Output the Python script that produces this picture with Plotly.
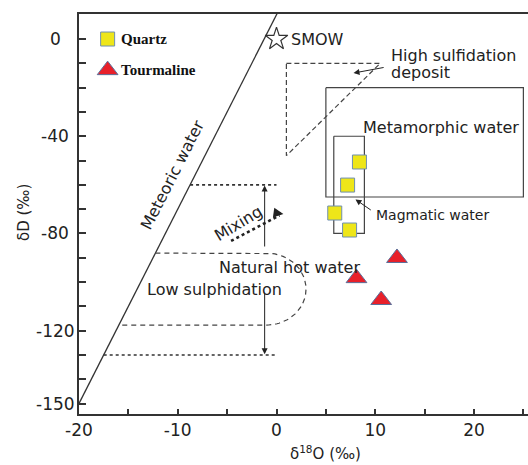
import numpy as np
import plotly.graph_objects as go

# ---------------- data ----------------
quartz_d18O = [8.4, 7.2, 5.9, 7.4]
quartz_dD = [-50.6, -60.1, -71.6, -78.6]
tour_d18O = [12.2, 8.1, 10.6]
tour_dD = [-90.1, -98.4, -107.4]
smow_d18O = [0]
smow_dD = [0]

x_tick_vals = [-20, -15, -10, -5, 0, 5, 10, 15, 20, 25]
x_tick_text = ['-20', '', '-10', '', '0', '', '10', '', '20', '']
y_tick_vals = [0, -10, -20, -30, -40, -50, -60, -70, -80, -90, -100, -110, -120, -130, -140, -150]
y_label_vals = [0, -40, -80, -120, -150]

# region definitions (d18O, dD)
meteoric_slope, meteoric_int = 8, 10
high_sulf = [(1, -10), (10.5, -10), (1, -48)]
metamorphic = (5, -20, 25, -65)
magmatic = (5.8, -40, 8.9, -80)
low_sulph = dict(cx=-1.0, cy=-102.9, rx=4.0, ry=14.8)
hot_water = (-60, -130)

SANS = "DejaVu Sans"
SERIF = "Liberation Serif"
DARK = "#333333"

# plot area geometry helpers (paper coords from pixel)
L, R, T, B = 79, 528, 14, 414
def px(xp):
    return (xp - L) / (R - L)
def py(yp):
    return (B - yp) / (B - T)

fig = go.Figure()

def meteoric_x(y):
    return (y - meteoric_int) / meteoric_slope

# meteoric water line
mx = np.array([-21, 1.5])
fig.add_trace(go.Scatter(x=mx, y=meteoric_slope * mx + meteoric_int, mode='lines',
                         line=dict(color=DARK, width=1.3), hoverinfo='skip'))

# natural hot water dotted lines
for yv in hot_water:
    fig.add_trace(go.Scatter(x=[meteoric_x(yv), 0], y=[yv, yv], mode='lines',
                             line=dict(color=DARK, width=1.6, dash='dot'), hoverinfo='skip'))

# low sulphidation dashed curve
ls = low_sulph
top = ls['cy'] + ls['ry']
bot = ls['cy'] - ls['ry']
t = np.linspace(np.pi / 2, -np.pi / 2, 60)
ex = np.concatenate([[meteoric_x(top)], ls['cx'] + ls['rx'] * np.cos(t), [meteoric_x(bot)]])
ey = np.concatenate([[top], ls['cy'] + ls['ry'] * np.sin(t), [bot]])
fig.add_trace(go.Scatter(x=ex, y=ey, mode='lines',
                         line=dict(color='#444444', width=1.2, dash='5px,4px'), hoverinfo='skip'))

# high sulfidation dashed triangle
hx = [p[0] for p in high_sulf] + [high_sulf[0][0]]
hy = [p[1] for p in high_sulf] + [high_sulf[0][1]]
fig.add_trace(go.Scatter(x=hx, y=hy, mode='lines',
                         line=dict(color='#444444', width=1.2, dash='5px,3px'), hoverinfo='skip'))

# rectangles
for (x0, y0, x1, y1) in (metamorphic, magmatic):
    fig.add_trace(go.Scatter(x=[x0, x1, x1, x0, x0], y=[y0, y0, y1, y1, y0], mode='lines',
                             line=dict(color='#444444', width=1.2), hoverinfo='skip'))

# mixing dotted arrow
fig.add_trace(go.Scatter(x=[-4.6, 0.3], y=[-83.1, -72.6], mode='lines',
                         line=dict(color='#222222', width=2.6, dash='dot'), hoverinfo='skip'))

# SMOW
fig.add_trace(go.Scatter(x=smow_d18O, y=smow_dD, mode='markers',
                         marker=dict(symbol='star-open', size=17, color=DARK, line=dict(width=1.2, color=DARK)),
                         hoverinfo='skip'))

# data points
fig.add_trace(go.Scatter(x=quartz_d18O, y=quartz_dD, mode='markers', name='Quartz',
                         marker=dict(symbol='square', size=14, color='#EEE619',
                                     line=dict(color='#6F8FB0', width=1))))
fig.add_trace(go.Scatter(x=tour_d18O, y=tour_dD, mode='markers', name='Tourmaline',
                         marker=dict(symbol='triangle-up', size=18, color='#E8202A',
                                     line=dict(color='#5A6F9A', width=1))))

# legend swatches
fig.add_trace(go.Scatter(x=[-17.1], y=[0], mode='markers',
                         marker=dict(symbol='square', size=14, color='#EEE619',
                                     line=dict(color='#6F8FB0', width=1)), hoverinfo='skip'))
fig.add_trace(go.Scatter(x=[-17.1], y=[-12.8], mode='markers',
                         marker=dict(symbol='triangle-up', size=18, color='#E8202A',
                                     line=dict(color='#5A6F9A', width=1)), hoverinfo='skip'))

ann = []
def text(x, y, s, size=16, xanchor='left', angle=0, font=SANS, xref='x', yref='y', color='#222222'):
    ann.append(dict(x=x, y=y, xref=xref, yref=yref, text=s, showarrow=False, xanchor=xanchor,
                    yanchor='middle', textangle=angle, font=dict(family=font, size=size, color=color)))

text(-15.9, 0, '<b>Quartz</b>', size=15, font=SERIF, color='#111111')
text(-15.9, -12.8, '<b>Tourmaline</b>', size=15, font=SERIF, color='#111111')
text(1.3, 0, 'SMOW', size=16)
text(11.4, -6.8, 'High sulfidation', size=16)
text(11.4, -13.8, 'deposit', size=16)
text(8.6, -36.2, 'Metamorphic water', size=16)
text(9.9, -72.5, 'Magmatic water', size=14)
text(-10.6, -56.0, 'Meteoric water', size=16, xanchor='center', angle=-63)
text(-3.9, -75.8, 'Mixing', size=16, xanchor='center', angle=-31)
text(1.3, -94.2, 'Natural hot water', size=16, xanchor='center')
text(-6.3, -102.9, 'Low sulphidation', size=16, xanchor='center')

# y tick labels (centered)
for v in y_label_vals:
    text(px(55), v, str(v), size=17, xanchor='center', xref='paper')

# axis titles
text(px(24), py(213), 'δD (‰)', size=15, xanchor='center', angle=-90, xref='paper', yref='paper')
text(px(325), py(453), 'δ<sup>18</sup>O (‰)', size=15, xanchor='center', xref='paper', yref='paper')

# arrows
def arrow(x0, y0, x1, y1, width=1, head=2, size=1):
    ann.append(dict(x=x1, y=y1, ax=x0, ay=y0, xref='x', yref='y', axref='x', ayref='y',
                    text='', showarrow=True, arrowhead=head, arrowsize=size, arrowwidth=width,
                    arrowcolor='#222222'))

arrow(-1.2, -86, -1.2, -60.3, width=1, head=2, size=1.2)
arrow(-1.2, -104, -1.2, -129.7, width=1, head=2, size=1.2)
arrow(11.0, -11.6, 7.8, -14.0, width=1, head=2, size=1.2)
arrow(9.7, -70.8, 8.0, -66.0, width=1, head=2, size=1.2)
arrow(-0.2, -71.5, 0.7, -72.0, width=2.2, head=2, size=0.9)

fig.update_layout(
    width=528, height=465,
    margin=dict(l=L, r=528 - R, t=T, b=465 - B),
    plot_bgcolor='white', paper_bgcolor='white',
    showlegend=False,
    annotations=ann,
    font=dict(family=SANS, size=17, color='#222222'),
)
fig.update_xaxes(range=[-20, -20 + (R - L) / 9.875], tickmode='array', tickvals=x_tick_vals,
                 ticktext=x_tick_text, ticks='inside', ticklen=5, tickwidth=1.5, tickcolor=DARK,
                 showline=True, linecolor=DARK, linewidth=2, mirror=True, showgrid=False,
                 zeroline=False, tickfont=dict(family=SANS, size=17, color='#222222'))
fig.update_yaxes(autorange=False, range=[10.3 - (B - T) / 2.43, 10.3], tickmode='array',
                 tickvals=y_tick_vals, ticktext=[''] * len(y_tick_vals), ticks='inside', ticklen=7,
                 tickwidth=1.5, tickcolor=DARK, showline=True, linecolor=DARK, linewidth=2,
                 mirror=False, showgrid=False, zeroline=False)

fig.write_html("out.html")
